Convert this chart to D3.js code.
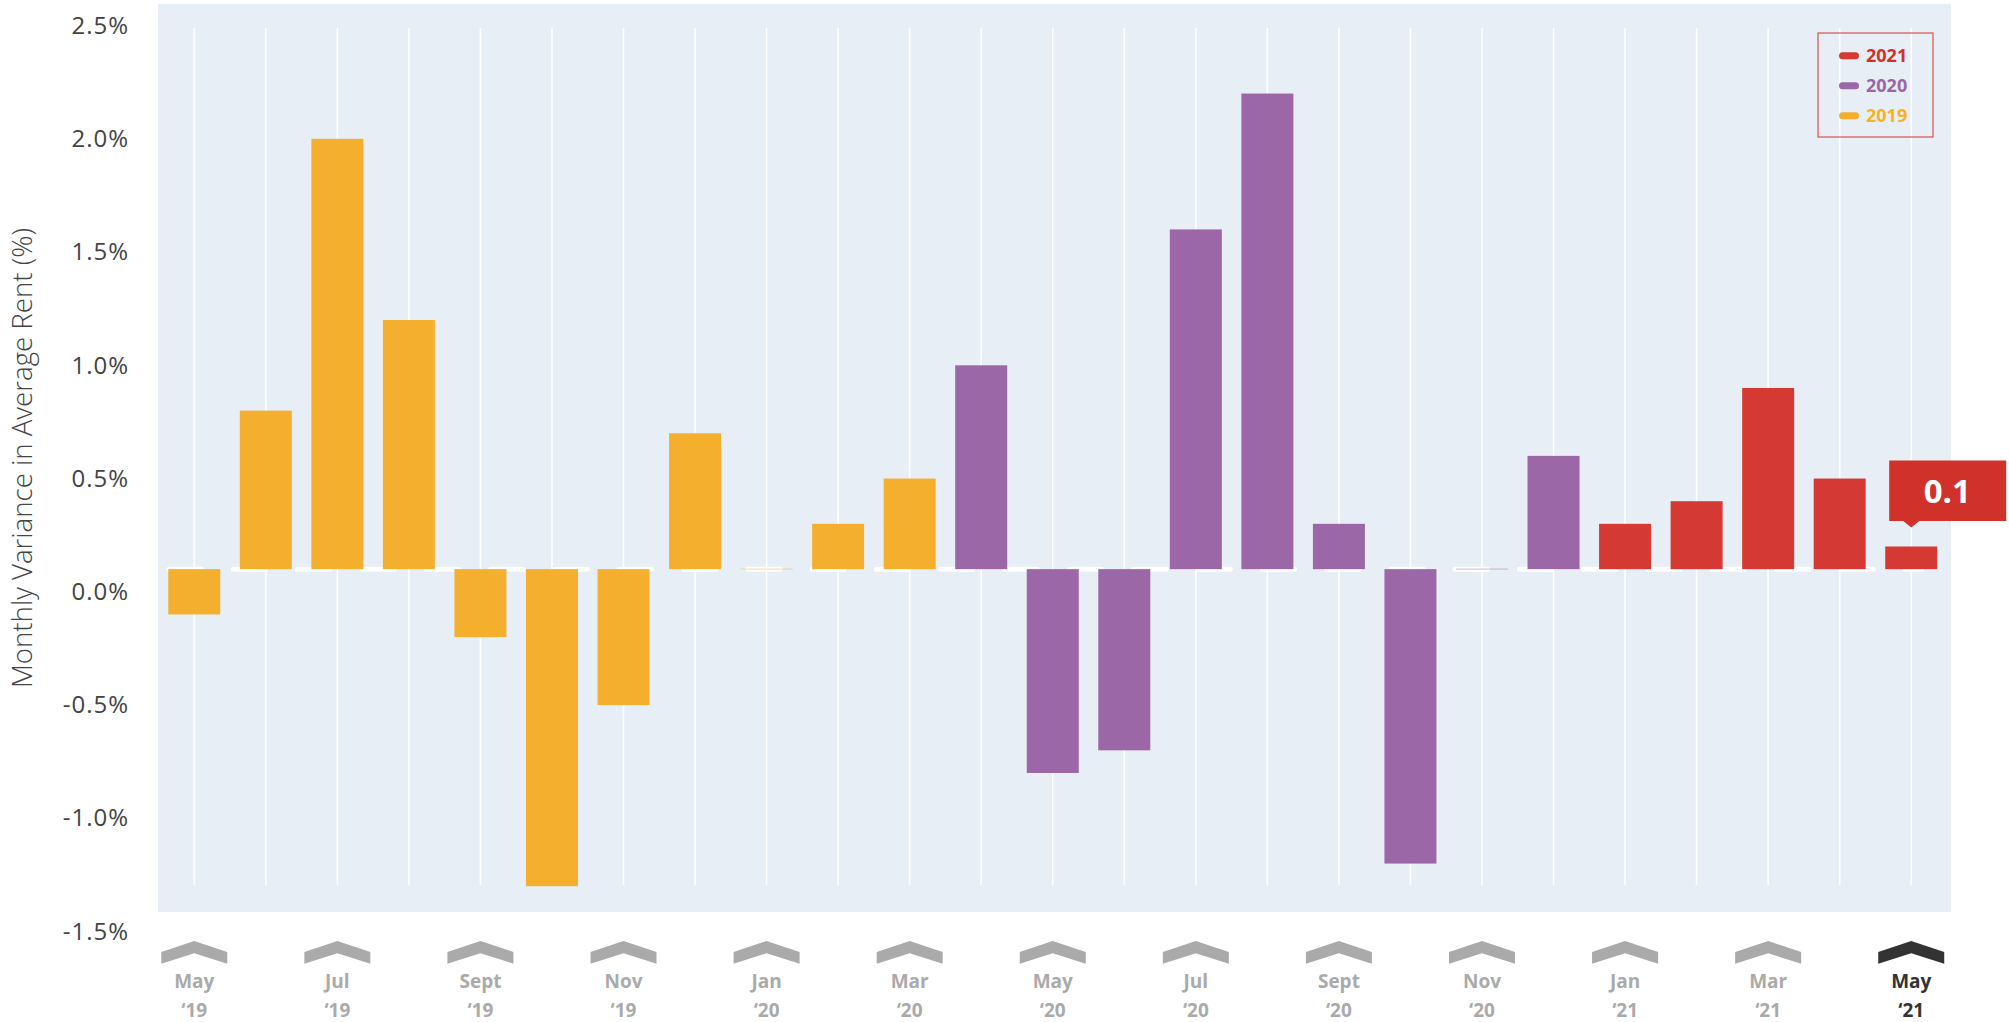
<html>
	<head>
	<meta charset="utf-8">
	<script src="https://cdn.jsdelivr.net/npm/d3@7"></script>
	<style>
		body {
			margin:0;
			background:#fff;
		}
		svg {
			display:block;
			font-family:"Open Sans", sans-serif;
		}
	</style>
	</head>
	<body>

		<svg id="svg" width="2009" height="1022"></svg>

		<script>
		// chart data
		const months = ["May","Jun","Jul","Aug","Sept","Oct","Nov","Dec",
			"Jan","Feb","Mar","Apr","May","Jun","Jul","Aug","Sept","Oct","Nov","Dec",
			"Jan","Feb","Mar","Apr","May"];
		const years = ["19","19","19","19","19","19","19","19",
			"20","20","20","20","20","20","20","20","20","20","20","20",
			"21","21","21","21","21"];
		const values = [-0.2, 0.7, 1.9, 1.1, -0.3, -1.4, -0.6, 0.6,
			0, 0.2, 0.4, 0.9, -0.9, -0.8, 1.5, 2.1, 0.2, -1.3, 0, 0.5,
			0.2, 0.3, 0.8, 0.4, 0.1];
		const series = ["2019","2019","2019","2019","2019","2019","2019","2019",
			"2019","2019","2019","2020","2020","2020","2020","2020","2020","2020","2020","2020",
			"2021","2021","2021","2021","2021"];
		const legendKeys = ["2021","2020","2019"];
		const yTicks = [2.5, 2.0, 1.5, 1.0, 0.5, 0.0, -0.5, -1.0, -1.5];
		const yTitle = "Monthly Variance in Average Rent (%)";
		// bars are drawn from this level of the axis
		const baseOffset = 0.1;

		const colors = {"2019":"#f5af2f", "2020":"#9b67a6", "2021":"#d43a33"};
		const legendText = {"2019":"#f6b322", "2020":"#9b66a5", "2021":"#d0312b"};

		// visual constants
		const plot = {left:158, right:1951, top:4, bottom:912};

		let mySvg = d3.select('#svg');

		let ids = months.map((m, i) => i);
		let xScale = d3.scalePoint()
			.domain(ids)
			.range([158.5, 1947])
			.padding(0.5);
		let yScale = d3.scaleLinear()
			.domain([-1.5, 2.5])
			.range([931.5, 25.6]);
		const barW = 52;

		// background
		mySvg.append("rect")
			.attr("x", plot.left).attr("y", plot.top)
			.attr("width", plot.right - plot.left)
			.attr("height", plot.bottom - plot.top)
			.attr("fill", "#e7eef5");

		// vertical grid lines at every month
		mySvg.append("g").selectAll("line")
			.data(ids)
			.enter().append("line")
			.attr("x1", d => xScale(d)).attr("x2", d => xScale(d))
			.attr("y1", 28).attr("y2", 885)
			.attr("stroke", "#fff")
			.attr("stroke-width", 1.6);

		// dashed white base line
		mySvg.append("line")
			.attr("x1", 169).attr("x2", 1922)
			.attr("y1", yScale(baseOffset)).attr("y2", yScale(baseOffset))
			.attr("stroke", "#fff")
			.attr("stroke-width", 5)
			.attr("stroke-linecap", "round")
			.attr("stroke-dasharray", "32.5,31.8");

		// y axis
		var yAxis = d3.axisLeft(yScale)
			.tickValues(yTicks)
			.tickSize(0)
			.tickPadding(0)
			.tickFormat(d => d.toFixed(1) + "%");
		let yg = mySvg.append("g")
			.attr('transform', 'translate(129,0)')
			.call(yAxis);
		yg.select(".domain").remove();
		yg.selectAll("text")
			.attr("font-family", "Open Sans")
			.attr("font-size", 24)
			.attr("letter-spacing", 1)
			.attr("fill", "#444");

		mySvg.append("text")
			.attr("transform", "translate(32,458) rotate(-90)")
			.attr("text-anchor", "middle")
			.attr("font-family", "Open Sans")
			.attr("font-weight", 300)
			.attr("font-size", 27)
			.attr("fill", "#444")
			.attr("textLength", 460)
			.attr("lengthAdjust", "spacingAndGlyphs")
			.text(yTitle);

		// bars
		mySvg.append("g").selectAll("rect")
			.data(ids)
			.enter().append("rect")
			.attr("x", d => xScale(d) - barW / 2)
			.attr("width", barW)
			.attr("y", d => Math.min(yScale(baseOffset), yScale(baseOffset + values[d])) - (values[d] == 0 ? 0.8 : 0))
			.attr("height", d => values[d] == 0 ? 1.6 : Math.abs(yScale(baseOffset + values[d]) - yScale(baseOffset)))
			.attr("fill", d => colors[series[d]])
			.attr("fill-opacity", d => values[d] == 0 ? 0.3 : 1);

		// x axis: chevrons + labels every other month
		let shown = ids.filter(i => i % 2 == 0);
		let last = ids[ids.length - 1];
		let xg = mySvg.append("g").selectAll("g")
			.data(shown)
			.enter().append("g")
			.attr("transform", d => `translate(${xScale(d)},941)`);
		xg.append("path")
			.attr("d", "M-33,11 L0,0 L33,11 L33,22.7 L0,12.3 L-33,22.7 Z")
			.attr("fill", d => d == last ? "#333" : "#aaa");
		xg.append("text")
			.attr("y", 47)
			.attr("text-anchor", "middle")
			.attr("font-weight", 700)
			.attr("font-size", 19)
			.attr("fill", d => d == last ? "#333" : "#aaa")
			.text(d => months[d]);
		xg.append("text")
			.attr("y", 76)
			.attr("text-anchor", "middle")
			.attr("font-weight", 700)
			.attr("font-size", 19)
			.attr("fill", d => d == last ? "#333" : "#aaa")
			.text(d => "\u2018" + years[d]);

		// legend
		let lg = mySvg.append("g");
		lg.append("rect")
			.attr("x", 1818).attr("y", 33)
			.attr("width", 115).attr("height", 104)
			.attr("fill", "none")
			.attr("stroke", "#d9534f")
			.attr("stroke-width", 1.2);
		let items = lg.selectAll("g")
			.data(legendKeys)
			.enter().append("g")
			.attr("transform", (d, i) => `translate(1839,${55.7 + i * 30})`);
		items.append("rect")
			.attr("x", 0).attr("y", -3.5)
			.attr("width", 20).attr("height", 7)
			.attr("rx", 3.5)
			.attr("fill", d => colors[d]);
		items.append("text")
			.attr("x", 27).attr("y", 6.5)
			.attr("font-weight", 700)
			.attr("font-size", 18)
			.attr("fill", d => legendText[d])
			.text(d => d);

		// callout on the latest month
		let cx = xScale(last);
		let ty = yScale(baseOffset + values[last]) - 19;
		let tip = mySvg.append("g");
		tip.append("path")
			.attr("d", `M${cx - 22},${ty - 67} L${cx + 95},${ty - 67} L${cx + 95},${ty - 6.5} L${cx + 8},${ty - 6.5} L${cx},${ty} L${cx - 8},${ty - 6.5} L${cx - 22},${ty - 6.5} Z`)
			.attr("fill", "#d0312b");
		tip.append("text")
			.attr("x", cx + 36)
			.attr("y", ty - 24)
			.attr("text-anchor", "middle")
			.attr("font-weight", 700)
			.attr("font-size", 33)
			.attr("fill", "#fff")
			.text(values[last]);
		</script>
	</body>
</html>
